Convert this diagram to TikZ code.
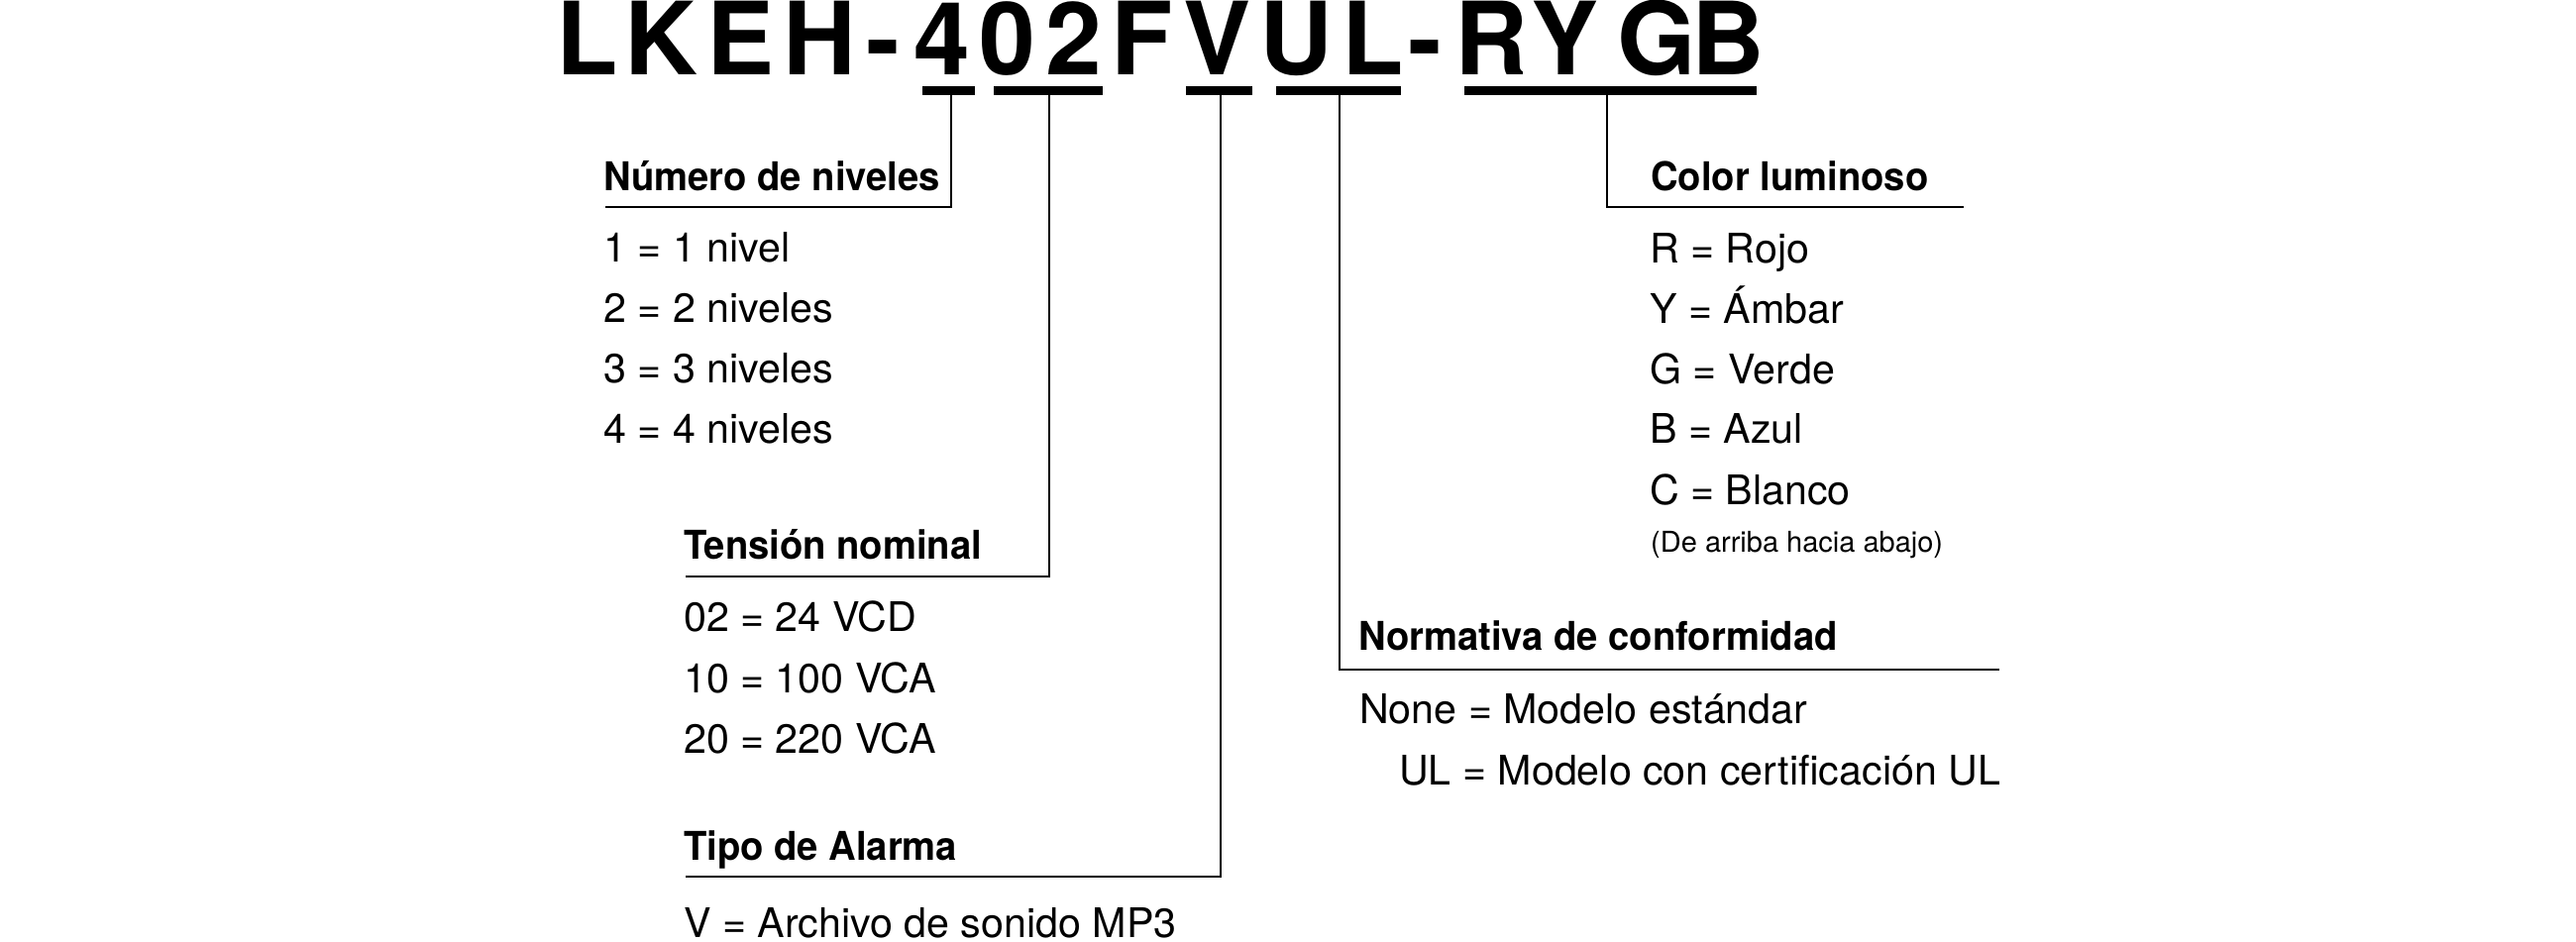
\documentclass[tikz,border=0pt]{standalone}
\usepackage{fontspec}
\setmainfont{TeX Gyre Heros}
\newfontfamily\headfont{TeX Gyre Heros}[FakeStretch=0.955]
\tikzset{
  item/.style={anchor=base west, inner sep=0pt, font=\fontsize{41.2bp}{48bp}\selectfont},
  head/.style={anchor=base west, inner sep=0pt, font=\headfont\bfseries\fontsize{40bp}{48bp}\selectfont},
  note/.style={anchor=base west, inner sep=0pt, font=\fontsize{29bp}{34bp}\selectfont},
  ttl/.style={anchor=base west, inner sep=0pt, font=\bfseries\fontsize{102bp}{110bp}\selectfont},
  conn/.style={line width=1.6bp},
  bar/.style={line width=9bp},
}
\begin{document}
\begin{tikzpicture}[x=1bp,y=-1bp]
\fill[white] (0,0) rectangle (2600,950);
\useasboundingbox (0,0) rectangle (2600,950);

% title, one letter per node
\foreach \ch/\xx [count=\i] in {L/561.5, K/630.1, E/713.2, H/790.1, -/874.4,
  4/922.1, 0/988.4, 2/1055.3, F/1121.6, V/1194.3, U/1271, L/1354, -/1421.7,
  R/1468.3, Y/1545.2, G/1632.2, B/1707.3}
  \node[ttl] (t\i) at (\xx,75) {\ch};

% underline bars
\coordinate (b1a) at (931,91.5);  \coordinate (b1b) at (984,91.5);
\coordinate (b2a) at (1003,91.5); \coordinate (b2b) at (1113,91.5);
\coordinate (b3a) at (1197,91.5); \coordinate (b3b) at (1264,91.5);
\coordinate (b4a) at (1288,91.5); \coordinate (b4b) at (1414,91.5);
\coordinate (b5a) at (1478,91.5); \coordinate (b5b) at (1773,91.5);
\draw[bar] (b1a) -- (b1b);
\draw[bar] (b2a) -- (b2b);
\draw[bar] (b3a) -- (b3b);
\draw[bar] (b4a) -- (b4b);
\draw[bar] (b5a) -- (b5b);

% connector start points (below bars)
\coordinate (s1) at (960,96);
\coordinate (s2) at (1059,96);
\coordinate (s3) at (1232,96);
\coordinate (s4) at (1352,96);
\coordinate (s5) at (1622,96);

% connector end points (free ends of heading rules)
\coordinate (e1) at (611,209);
\coordinate (e2) at (692,582);
\coordinate (e3) at (692,885);
\coordinate (e4) at (2018,676);
\coordinate (e5) at (1982,209);

\draw[conn] (s1) |- (e1);
\draw[conn] (s2) |- (e2);
\draw[conn] (s3) |- (e3);
\draw[conn] (s4) |- (e4);
\draw[conn] (s5) |- (e5);

% Numero de niveles
\node[head] (h1) at (609,192) {Número de niveles};
\node[item] (i11) at (609,264) {1 = 1 nivel};
\node[item] (i12) at (609,325) {2 = 2 niveles};
\node[item] (i13) at (609,386) {3 = 3 niveles};
\node[item] (i14) at (609,447) {4 = 4 niveles};

% Tension nominal
\node[head] (h2) at (690,564) {Tensión nominal};
\node[item] (i21) at (690,637) {02 = 24 VCD};
\node[item] (i22) at (690,699) {10 = 100 VCA};
\node[item] (i23) at (690,760) {20 = 220 VCA};

% Tipo de Alarma
\node[head] (h3) at (690,868) {Tipo de Alarma};
\node[item] (i31) at (690,946) {V = Archivo de sonido MP3};

% Normativa de conformidad
\node[head] (h4) at (1371,656) {Normativa de conformidad};
\node[item] (i41) at (1372,730) {None = Modelo estándar};
\node[item] (i42) at (1412,792) {UL = Modelo con certificación UL};

% Color luminoso
\node[head] (h5) at (1666,192) {Color luminoso};
\node[item] (i51) at (1665,265) {R = Rojo};
\node[item] (i52) at (1665,326) {Y = Ámbar};
\node[item] (i53) at (1665,387) {G = Verde};
\node[item] (i54) at (1665,447) {B = Azul};
\node[item] (i55) at (1665,509) {C = Blanco};
\node[note] (n5) at (1666,557) {(De arriba hacia abajo)};
\end{tikzpicture}
\end{document}
